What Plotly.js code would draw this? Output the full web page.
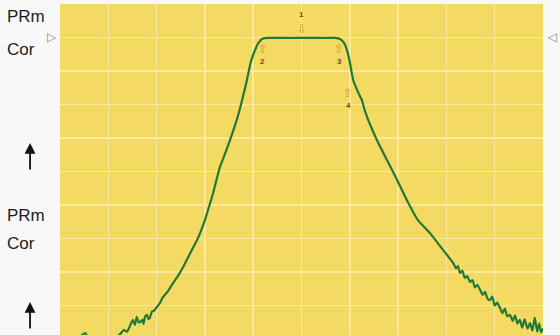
<!DOCTYPE html>
<html>
<head>
<meta charset="utf-8">
<script src="https://cdn.plot.ly/plotly-3.0.1.min.js"></script>
<style>
  html, body { margin: 0; padding: 0; background: #f8f8f8; }
  #plot { width: 560px; height: 335px; }
</style>
</head>
<body>
<div id="plot"></div>
<script>
// Frequency offset from centre (MHz) and measured level (dB)
const freqMHz = [
  -50, -47.5, -46, -44.8, -43.8, -42.5, -41, -39.6, -38.4, -37.6, -36.8, -36.1,
  -35.5, -34.9, -34.5, -34.1, -33.7, -33.4, -33.0, -32.7, -32.4, -32.0, -31.7,
  -31.4, -31.0, -30.5, -29.9, -29.3, -28.7, -27.6, -26.6, -25.5, -24.5, -23.6,
  -22.7, -21.8, -21.0, -20.0, -19.1, -18.3, -17.6, -16.9, -15.8, -14.8, -13.4,
  -12.3, -11.3, -10.5, -9.6, -9.0, -8.5, -8.2, -7.6, -6.9,
  -5, -2, 0, 2, 5, 6.9,
  8.0, 8.8, 9.4, 10.0, 10.7, 11.7, 12.5, 13.2, 15.6, 17.7, 19.8, 21.8, 24.1,
  26.6, 29.3, 31.4, 32.0, 32.4, 32.8, 33.3, 33.8, 34.3, 34.9, 35.4, 35.9, 36.4,
  37.0, 37.5, 38.0, 38.5, 39.0, 39.5, 40.0, 40.5, 41.1, 41.6, 42.1, 42.6, 43.2,
  43.7, 44.2, 44.7, 45.2, 45.7, 46.2, 46.8, 47.3, 47.8, 48.3, 48.8, 49.2, 49.6, 50
];
const levelDb = [
  -93, -91, -89.5, -88.2, -90.5, -91.5, -90.2, -91, -89.4, -88.6, -87.3, -87.8,
  -86, -84.3, -85.8, -83.4, -85.1, -84.9, -84.3, -85.5, -83.3, -82.8, -84,
  -83.6, -81.9, -81.5, -80.4, -79.2, -77.5, -75.6, -73.3, -71, -68.5, -66,
  -63.4, -61, -58.4, -54.5, -50.3, -46.4, -42.5, -38.7, -34.6, -30.6, -24.6,
  -18.7, -12.7, -7.3, -3.7, -1.8, -0.9, -0.45, -0.2, -0.1,
  -0.1, -0.15, -0.1, -0.1, -0.15, -0.1,
  -0.45, -1.6, -3.7, -7.3, -12.7, -16.3, -18.7, -22.2, -30.6, -36.6, -42.5, -48.5, -54.5,
  -58.4, -63.4, -67.3, -68.9, -68.2, -70.3, -69.6, -71.8, -71.2, -73.0, -72.4, -74.6, -73.8,
  -75.4, -76.8, -75.9, -77.9, -78.4, -77.3, -80.0, -79.1, -80.7, -82.3, -80.9, -83.2, -82.8,
  -84.6, -82.9, -85.4, -84.3, -86.6, -84.1, -86.9, -85.2, -87.5, -83.6, -87.8, -85.4, -88.0, -86.8
];

// Trace markers: number, frequency, level, whether the arrow points down onto the trace
const markerNames = ['1', '2', '3', '4'];
const markerFreq  = [0, -8.0, 7.8, 9.7];
const markerLevel = [-0.1, -0.5, -0.5, -13.5];
const markerDown  = [true, false, false, false];

// Channel labels on the left side of the screen
const channelLabels = [['PRm', 'Cor'], ['PRm', 'Cor']];

const markerAnnotations = [];
markerNames.forEach((name, i) => {
  const down = markerDown[i];
  markerAnnotations.push({
    x: markerFreq[i], y: markerLevel[i], xref: 'x', yref: 'y',
    text: down ? '⇩' : '⇧', showarrow: false,
    yanchor: down ? 'bottom' : 'top', yshift: down ? 0 : -1,
    font: { family: 'DejaVu Sans', size: 12, color: '#d8953a' }
  });
  markerAnnotations.push({
    x: markerFreq[i], y: markerLevel[i], xref: 'x', yref: 'y',
    text: '<b>' + name + '</b>', showarrow: false,
    yanchor: down ? 'bottom' : 'top', yshift: down ? 17 : -16,
    font: { family: 'Liberation Sans', size: 8, color: '#7a4614' }
  });
});

// Left-hand labels, reference triangles and "up" arrows
const sideAnnotations = [];
const labelRows = [[0.962, 0.862], [0.36, 0.275]];
channelLabels.forEach((pair, k) => {
  pair.forEach((txt, j) => {
    sideAnnotations.push({
      x: -0.113, y: labelRows[k][j], xref: 'paper', yref: 'paper',
      text: txt, showarrow: false, xanchor: 'left', yanchor: 'middle',
      font: { family: 'Liberation Sans', size: 17, color: '#1c1c1c' }
    });
  });
});
const arrowY = [0.58, 0.1];
arrowY.forEach(y => {
  sideAnnotations.push({
    x: -0.062, y: y, xref: 'paper', yref: 'paper', text: '',
    showarrow: true, ax: 0, ay: 28, arrowhead: 2, arrowsize: 1.2,
    arrowwidth: 1.8, arrowcolor: '#111'
  });
});
sideAnnotations.push({
  x: -0.002, y: 0.9, xref: 'paper', yref: 'paper', text: '▷',
  showarrow: false, xanchor: 'right', yanchor: 'middle',
  font: { family: 'DejaVu Sans', size: 12, color: '#8a8a8a' }
});
sideAnnotations.push({
  x: 1.005, y: 0.9, xref: 'paper', yref: 'paper', text: '◁',
  showarrow: false, xanchor: 'left', yanchor: 'middle',
  font: { family: 'DejaVu Sans', size: 12, color: '#8a8a8a' }
});

const trace = {
  x: freqMHz, y: levelDb, type: 'scatter', mode: 'lines',
  line: { color: '#1f7a3a', width: 2.2, shape: 'spline', smoothing: 0.5 },
  hoverinfo: 'skip'
};

const layout = {
  width: 560, height: 335,
  margin: { l: 60, r: 17, t: 4, b: 0, pad: 0 },
  paper_bgcolor: '#f8f8f8',
  plot_bgcolor: '#f4d962',
  showlegend: false,
  xaxis: {
    range: [-50, 50], dtick: 10, tick0: -50, showticklabels: false, ticks: '',
    showgrid: true, gridcolor: '#f9ea9c', gridwidth: 1.5, zeroline: false,
    showline: false, fixedrange: true
  },
  yaxis: {
    range: [-88.8, 10], dtick: 10, tick0: 10, showticklabels: false, ticks: '',
    showgrid: true, gridcolor: '#f9ea9c', gridwidth: 1.5, zeroline: false,
    showline: false, fixedrange: true
  },
  annotations: markerAnnotations.concat(sideAnnotations)
};

Plotly.newPlot('plot', [trace], layout, { staticPlot: true, displayModeBar: false });
</script>
</body>
</html>
